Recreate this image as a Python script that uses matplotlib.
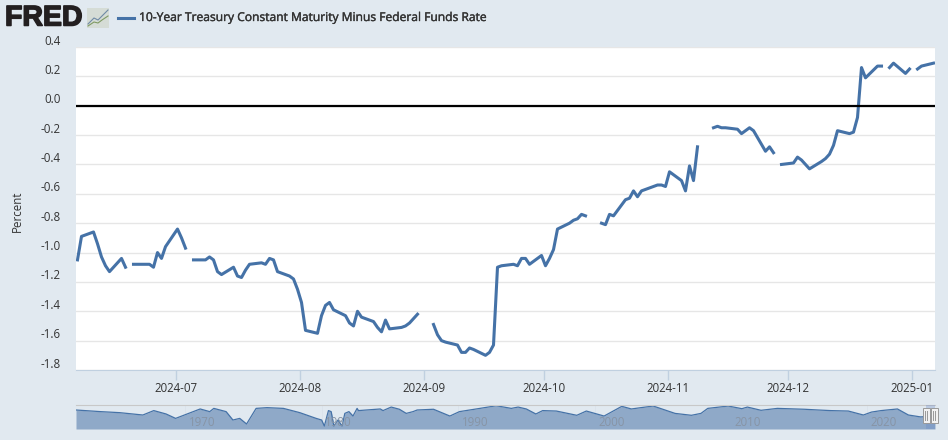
import pandas as pd
import matplotlib.pyplot as plt
import matplotlib.patheffects as pe
from matplotlib.patches import Rectangle

plt.rcParams['font.family'] = ['Open Sans', 'DejaVu Sans']

BG = '#e1e9f0'
BLUE = '#4572a7'
TXT = '#333333'

# one value per weekday from 2024-06-06, None on the market holidays
jun = [-1.05, -0.89, -0.86, -0.94, -1.03, -1.09, -1.13, -1.04, -1.10, None, -1.08, -1.08,
       -1.08, -1.10, -1.00, -1.04, -0.96]
jul = [-0.84, -0.90, -0.97, None, -1.05, -1.05, -1.03, -1.05, -1.13, -1.15, -1.10, -1.16,
       -1.17, -1.12, -1.08, -1.07, -1.08, -1.04, -1.05, -1.13, -1.16, -1.18, -1.25]
aug = [-1.34, -1.53, -1.55, -1.43, -1.36, -1.34, -1.39, -1.43, -1.48, -1.50, -1.40, -1.44,
       -1.47, -1.51, -1.54, -1.46, -1.52, -1.51, -1.50, -1.48, -1.45, -1.42]
sep = [None, -1.49, -1.56, -1.60, -1.61, -1.63, -1.68, -1.68, -1.65, -1.66, -1.70, -1.68,
       -1.63, -1.10, -1.09, -1.08, -1.09, -1.04, -1.04, -1.08, -1.02]
oct_ = [-1.09, -1.04, -0.98, -0.84, -0.80, -0.78, -0.77, -0.74, -0.75, None, -0.80, -0.81,
        -0.74, -0.75, -0.64, -0.63, -0.58, -0.62, -0.58, -0.55, -0.54, -0.54, -0.55]
nov = [-0.45, -0.51, -0.58, -0.41, -0.51, -0.28, None, -0.15, -0.14, -0.15, -0.15, -0.16,
       -0.19, -0.17, -0.15, -0.17, -0.31, -0.28, -0.32, None, -0.40]
dec = [-0.39, -0.35, -0.37, -0.40, -0.43, -0.38, -0.36, -0.33, -0.27, -0.17, -0.19, -0.18,
       -0.08, 0.26, 0.19, 0.27, 0.27, None, 0.26, 0.29, 0.22, 0.25]
jan = [None, 0.25, 0.27, 0.29]

values = jun + jul + aug + sep + oct_ + nov + dec + jan
dates = pd.bdate_range('2024-06-06', '2025-01-06')
series = pd.Series(values, index=dates, dtype=float)

y_ticks = [0.4, 0.2, 0.0, -0.2, -0.4, -0.6, -0.8, -1.0, -1.2, -1.4, -1.6, -1.8]
x_ticks = ['2024-07', '2024-08', '2024-09', '2024-10', '2024-11', '2024-12', '2025-01']

nav_years = [1962.0, 1963.8, 1965.2, 1966.9, 1967.7, 1968.6, 1969.3, 1971.1, 1971.8, 1972.1,
             1973.0, 1973.5, 1974.0, 1974.5, 1975.2, 1976.0, 1977.2, 1978.4, 1979.6, 1980.0,
             1980.2, 1980.5, 1980.7, 1980.9, 1981.2, 1981.5, 1981.7, 1982.0, 1982.3, 1982.6,
             1982.7, 1984.3, 1984.5, 1985.1, 1985.7, 1986.2, 1986.7, 1987.0, 1988.2, 1989.4,
             1990.1, 1991.6, 1992.8, 1993.9, 1994.4, 1995.0, 1995.7, 1996.2, 1997.2, 1998.7,
             1999.4, 2000.7, 2002.0, 2002.7, 2003.4, 2004.3, 2005.9, 2007.1, 2007.8, 2008.3,
             2009.8, 2010.8, 2011.2, 2012.2, 2013.4, 2015.4, 2016.4, 2017.3, 2018.6, 2019.7,
             2020.3, 2021.0, 2022.2, 2023.0, 2023.9, 2024.95]
nav_values = [1.6, 0.5, -0.2, -1.8, 1.2, -1.1, -4.1, 2.3, 0.5, 2.7,
              0.5, -5.2, -4.1, -7.9, 2.7, 3.2, 2.7, -0.2, -4.1, -5.2,
              -9.3, 1.2, 0.5, -9.3, -5.2, -9.3, -0.7, 0.5, -2.5, 2.7,
              1.2, 2.3, 1.2, 3.6, 2.1, -0.7, 0.5, 1.6, 2.1, -2.5,
              0.5, 2.7, 4.5, 2.7, 3.6, 2.3, -1.1, 1.2, 0.9, -2.0,
              0.9, -2.5, 4.1, 2.3, 3.2, 4.3, -0.7, -2.0, -0.7, 2.7,
              4.3, 2.5, 3.6, 1.4, 2.7, 2.1, 1.6, 1.2, 0.9, -1.8,
              0.2, 1.2, 2.3, -1.8, -3.1, -2.5]
nav_labels = [1970, 1980, 1990, 2000, 2010, 2020]

W, H = 948, 440


def px_axes(x0, y0, x1, y1):
    # axes from pixel box, y counted from the top
    return fig.add_axes([x0 / W, 1 - y1 / H, (x1 - x0) / W, (y1 - y0) / H])


fig = plt.figure(figsize=(W / 100, H / 100), dpi=100, facecolor=BG)

# main chart
ax = px_axes(76, 47, 935, 370)
ax.plot(series.index, series.values, color=BLUE, lw=2.2, solid_joinstyle='round', zorder=3)
ax.axhline(0, color='black', lw=1.6, zorder=4)
ax.set_xlim(pd.Timestamp('2024-06-05 15:00'), pd.Timestamp('2025-01-06 09:00'))
ax.set_ylim(-1.8, 0.4)
ax.set_yticks(y_ticks)
ax.set_yticklabels([])
# y labels sit a few pixels above their gridlines
for v in y_ticks:
    ax.annotate('%.1f' % v, xy=(0, v), xycoords=ax.get_yaxis_transform(), xytext=(-10.8, 4.3),
                textcoords='offset points', color=TXT, fontsize=8.3, ha='right', va='center',
                annotation_clip=False)
ax.grid(axis='y', color='#e6e6e6', lw=1)
ax.set_axisbelow(True)
ax.tick_params(axis='y', length=0)
tick_pos = [pd.Timestamp(t + '-01') - pd.Timedelta(hours=9) for t in x_ticks]
ax.set_xticks(tick_pos)
ax.set_xticklabels(x_ticks, color=TXT, fontsize=8.3)
ax.tick_params(axis='x', length=7, width=1, color='#c0d0e0', pad=1.5)
for s in ['top', 'left', 'right']:
    ax.spines[s].set_visible(False)
ax.spines['bottom'].set_color('#c0d0e0')
ax.set_ylabel('Percent', color=TXT, fontsize=8.3)
ax.yaxis.set_label_coords((24 - 76) / 859, 0.49)

# header: logo, icon and legend
fig.text(5 / W, 1 - 18.5 / H, 'FRED', color='#231f20', fontsize=20.5, fontweight='bold',
         family=['Liberation Sans', 'DejaVu Sans'], va='center', ha='left',
         path_effects=[pe.withStroke(linewidth=1.1, foreground='#231f20')])
icon = px_axes(87, 8, 109, 28)
icon.set_facecolor('#d5dcd6')
icon.set_xticks([])
icon.set_yticks([])
for s in icon.spines.values():
    s.set_visible(False)
icon.plot([0, 3, 5, 7, 10], [2, 5, 4, 6, 9], color='#6f8aa5', lw=0.8)
icon.plot([0, 3, 5, 7, 10], [1, 3, 2.5, 4, 6], color='#7f9a63', lw=0.8)
icon.set_xlim(-0.5, 10.5)
icon.set_ylim(0, 10)

fig.add_artist(plt.Line2D([118 / W, 134 / W], [1 - 18 / H, 1 - 18 / H], color=BLUE, lw=2.2))
fig.text(139 / W, 1 - 17.5 / H, '10-Year Treasury Constant Maturity Minus Federal Funds Rate',
         color=TXT, fontsize=8.68, fontweight='normal', va='center', ha='left',
         path_effects=[pe.withStroke(linewidth=0.25, foreground=TXT)])

# navigator strip
nav = px_axes(76, 405, 935, 429)
nav.patch.set_alpha(0)
nav.fill_between(nav_years, nav_values, -11.3, color='#8fa9c8', lw=0)
nav.plot(nav_years, nav_values, color=BLUE, lw=0.9)
nav.set_xlim(1962.0, 2024.95)
nav.set_ylim(-11.3, 5)
nav.set_yticks([])
nav.set_xticks([])
for s in ['left', 'right', 'bottom']:
    nav.spines[s].set_visible(False)
nav.spines['top'].set_color('#c8c8c8')
for y in nav_labels:
    nav.axvline(y, color='#d5dde5', lw=0.6, alpha=0.5, zorder=0)
    nav.text(y + 0.25, -7.0, str(y), color='#8794a5', fontsize=8.3, va='center', ha='left')

# navigator selection and handles
fig.add_artist(Rectangle((926 / W, 1 - 429 / H), 9 / W, 24 / H, transform=fig.transFigure,
                         facecolor='#6685c2', alpha=0.3, lw=0))
for x0 in [922.5, 930.5]:
    fig.add_artist(Rectangle((x0 / W, 1 - 423 / H), 7.5 / W, 15 / H, transform=fig.transFigure,
                             facecolor='#f2f2f2', edgecolor='#999999', lw=0.7))
    for dx in [2.7, 4.8]:
        fig.add_artist(plt.Line2D([(x0 + dx) / W] * 2, [1 - 420 / H, 1 - 411 / H],
                                  color='#999999', lw=0.7))

fig.savefig('out.png', dpi=100, facecolor=BG)
